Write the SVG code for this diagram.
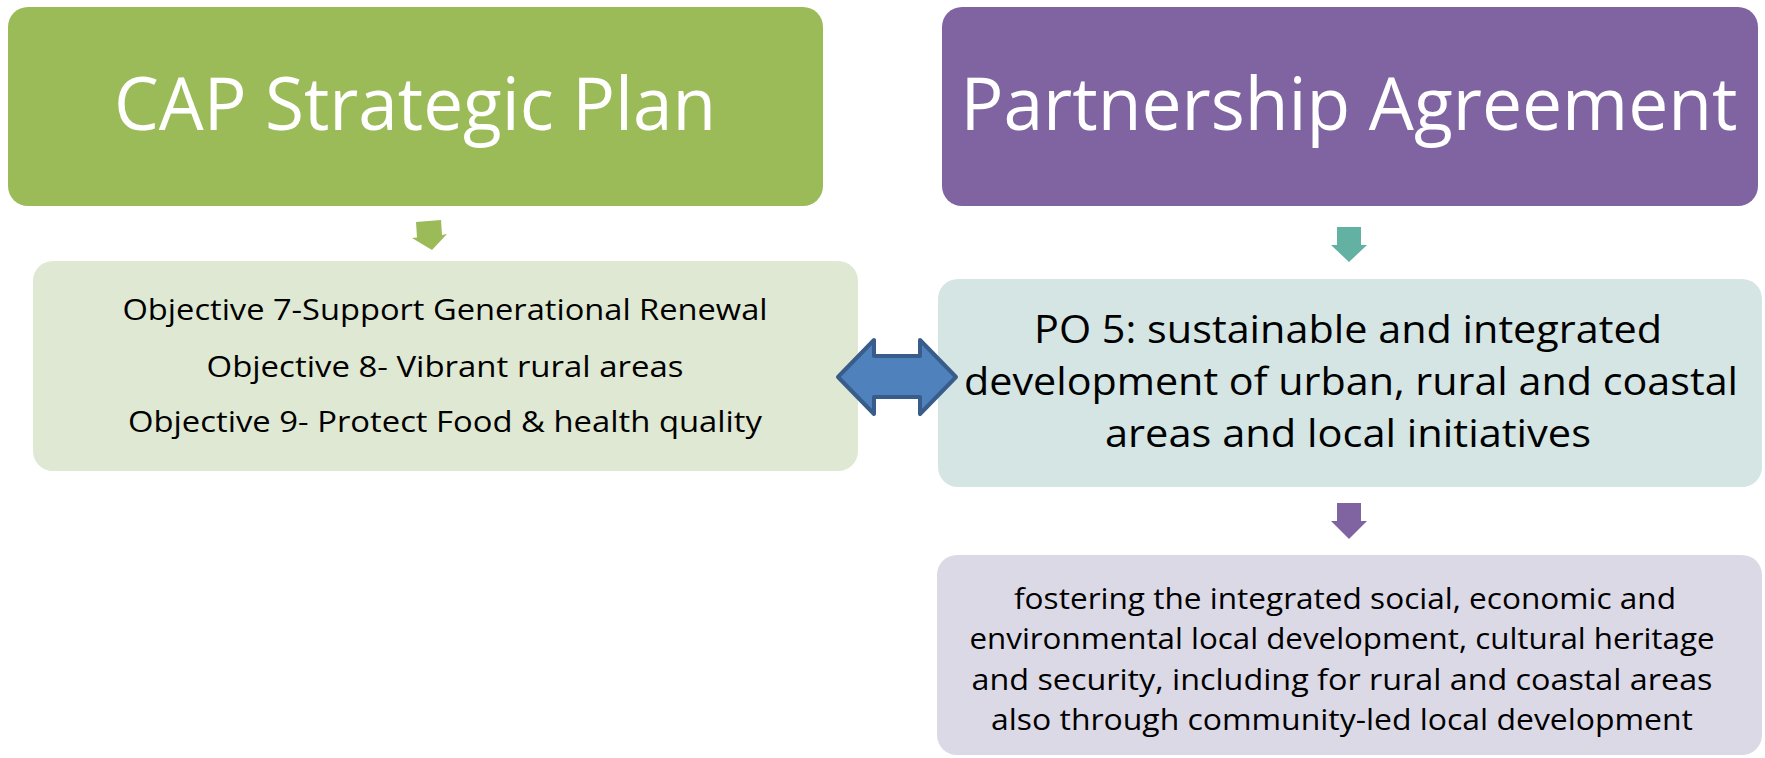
<svg xmlns="http://www.w3.org/2000/svg" width="1765" height="758" viewBox="0 0 1765 758">
<style>
text { font-family: "Open Sans", "Noto Sans", "Liberation Sans", sans-serif; text-anchor: middle; }
.title { fill: #ffffff; font-size: 74px; }
.obj { fill: #000000; font-size: 29px; }
.po { fill: #000000; font-size: 39px; }
.fost { fill: #000000; font-size: 30px; }
</style>
<rect width="1765" height="758" fill="#ffffff"/>
<g id="cap-title">
  <rect x="8" y="7" width="815" height="199" rx="20" fill="#9bbb59"/>
  <text class="title" x="415" y="130" textLength="602" lengthAdjust="spacingAndGlyphs">CAP Strategic Plan</text>
</g>
<g id="pa-title">
  <rect x="942" y="7" width="816" height="199" rx="20" fill="#8064a2"/>
  <text class="title" x="1349" y="130" textLength="777" lengthAdjust="spacingAndGlyphs">Partnership Agreement</text>
</g>
<g id="objectives">
  <rect x="33" y="261" width="825" height="210" rx="20" fill="#dfe8d3"/>
  <text class="obj" x="445" y="320" textLength="645" lengthAdjust="spacingAndGlyphs">Objective 7-Support Generational Renewal</text>
  <text class="obj" x="445" y="377" textLength="477" lengthAdjust="spacingAndGlyphs">Objective 8- Vibrant rural areas</text>
  <text class="obj" x="445" y="432" textLength="634" lengthAdjust="spacingAndGlyphs">Objective 9- Protect Food &amp; health quality</text>
</g>
<g id="po5">
  <rect x="938" y="279" width="824" height="208" rx="20" fill="#d4e5e4"/>
  <text class="po" x="1348" y="343" textLength="628" lengthAdjust="spacingAndGlyphs">PO 5: sustainable and integrated</text>
  <text class="po" x="1351" y="395" textLength="774" lengthAdjust="spacingAndGlyphs">development of urban, rural and coastal</text>
  <text class="po" x="1348" y="447" textLength="486" lengthAdjust="spacingAndGlyphs">areas and local initiatives</text>
</g>
<g id="fostering">
  <rect x="937" y="555" width="825" height="200" rx="20" fill="#dcd9e6"/>
  <text class="fost" x="1345" y="609" textLength="662" lengthAdjust="spacingAndGlyphs">fostering the integrated social, economic and</text>
  <text class="fost" x="1342" y="649" textLength="745" lengthAdjust="spacingAndGlyphs">environmental local development, cultural heritage</text>
  <text class="fost" x="1342" y="690" textLength="741" lengthAdjust="spacingAndGlyphs">and security, including for rural and coastal areas</text>
  <text class="fost" x="1342" y="730" textLength="702" lengthAdjust="spacingAndGlyphs">also through community-led local development</text>
</g>
<g id="connectors">
  <polygon points="416,222 441,220 442,235 447,234 432,250 412,238 417,237.5" fill="#9bbb59"/>
  <polygon points="1337,227 1361,227 1361,245 1367,245 1349,262 1331,245 1337,245" fill="#62b1a2"/>
  <polygon points="1337,503 1361,503 1361,521 1367,521 1349,539 1331,521 1337,521" fill="#8064a2"/>
  <polygon points="838,377 874,340 874,356 920,356 920,340 956,377 920,414 920,397 874,397 874,414" fill="#4f81bd" stroke="#385d8a" stroke-width="4" stroke-linejoin="round"/>
</g>
</svg>
